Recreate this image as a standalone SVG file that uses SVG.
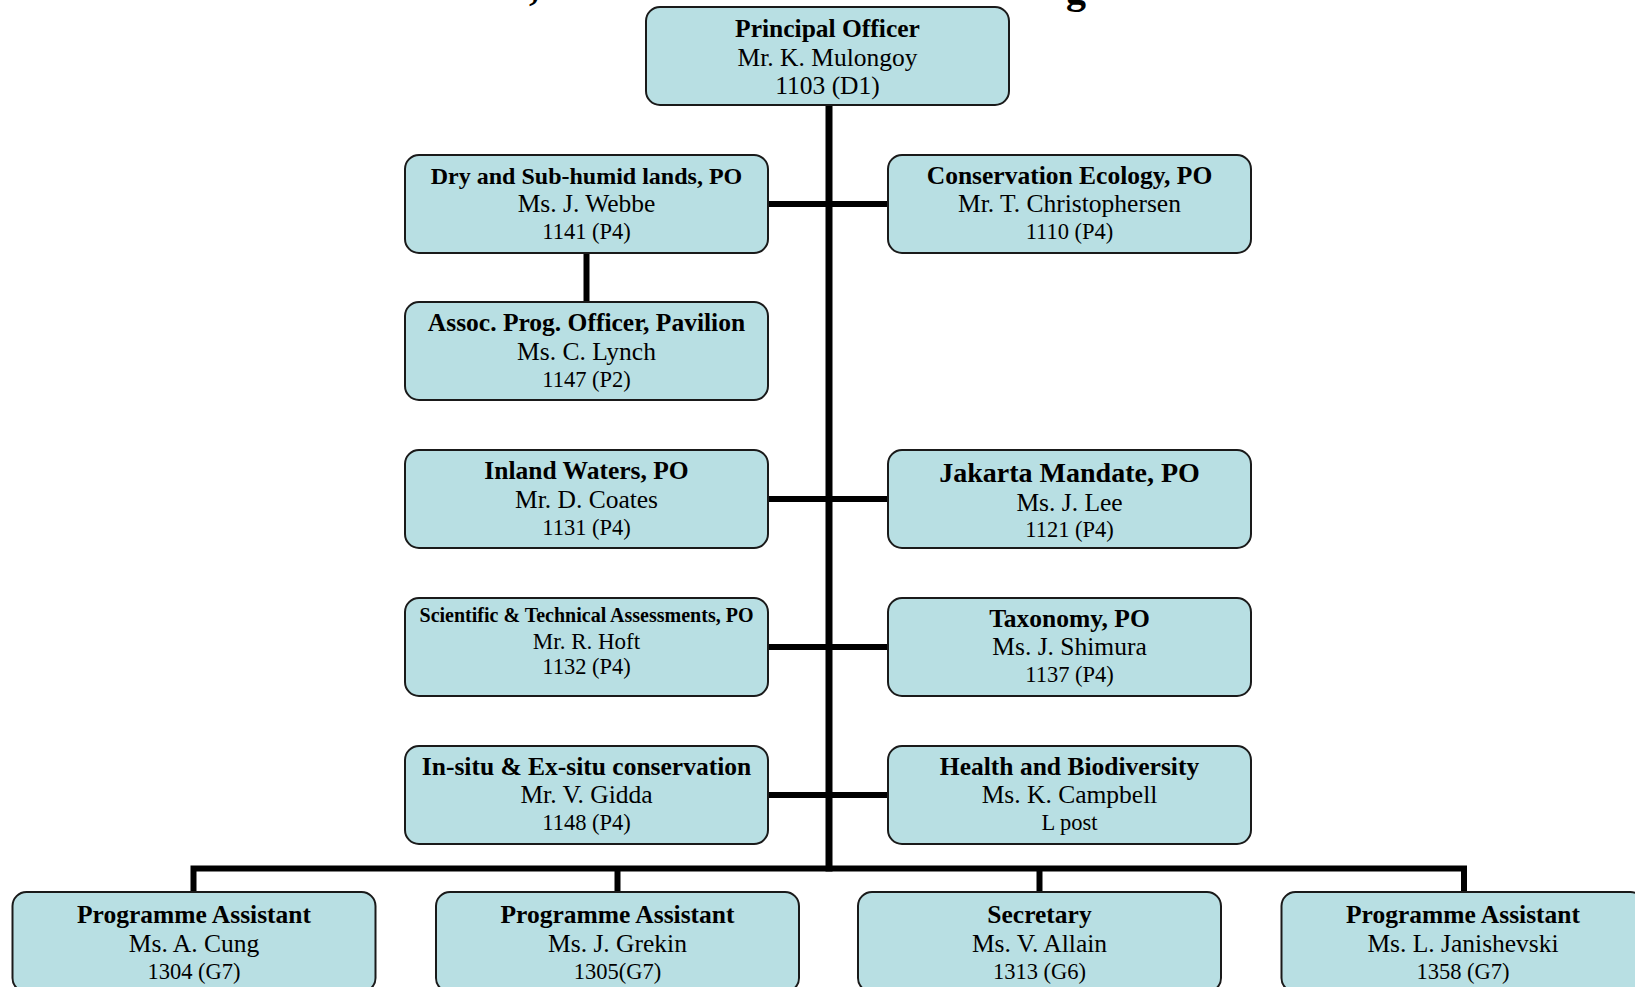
<svg xmlns="http://www.w3.org/2000/svg" width="1635" height="987" viewBox="0 0 1635 987">
<style>
.box{fill:#B8DFE3;stroke:#1a1a1a;stroke-width:2}
.t{font-family:"Liberation Serif","Times New Roman",serif;text-anchor:middle;fill:#000}
.b{font-weight:bold;font-size:25.5px}
.n{font-size:25.5px}
.c{font-size:22.5px}
.ln{stroke:#000;stroke-width:6;fill:none}
</style>
<rect width="1635" height="987" fill="#fff"/>
<g id="title-fragments">
<text class="t" x="534" y="0" style="font-size:40px;font-weight:bold">,</text>
<text class="t" x="1076" y="3" style="font-size:40px;font-weight:bold">g</text>
</g>
<g id="connectors">
<line class="ln" x1="829" y1="105" x2="829" y2="871.5" style="stroke-width:7"/>
<line class="ln" x1="768" y1="204" x2="888" y2="204"/>
<line class="ln" x1="586.5" y1="253" x2="586.5" y2="302"/>
<line class="ln" x1="768" y1="499" x2="888" y2="499"/>
<line class="ln" x1="768" y1="647" x2="888" y2="647"/>
<line class="ln" x1="768" y1="795" x2="888" y2="795"/>
<polyline class="ln" points="193.5,892 193.5,868.5 1464,868.5 1464,892"/>
<line class="ln" x1="617.5" y1="868.5" x2="617.5" y2="892"/>
<line class="ln" x1="1039.5" y1="868.5" x2="1039.5" y2="892"/>
</g>
<g id="principal">
<rect class="box" x="646" y="7" width="363" height="98" rx="14"/>
<text class="t b" x="827.5" y="36.5">Principal Officer</text>
<text class="t n" x="827.5" y="65.5">Mr. K. Mulongoy</text>
<text class="t n" x="827.5" y="93.5">1103 (D1)</text>
</g>
<g id="dry">
<rect class="box" x="405" y="155" width="363" height="98" rx="14"/>
<text class="t" x="586.5" y="184" style="font-size:24px;font-weight:bold">Dry and Sub-humid lands, PO</text>
<text class="t n" x="586.5" y="212">Ms. J. Webbe</text>
<text class="t c" x="586.5" y="239">1141 (P4)</text>
</g>
<g id="conservation-ecology">
<rect class="box" x="888" y="155" width="363" height="98" rx="14"/>
<text class="t b" x="1069.5" y="184">Conservation Ecology, PO</text>
<text class="t n" x="1069.5" y="212">Mr. T. Christophersen</text>
<text class="t c" x="1069.5" y="239">1110 (P4)</text>
</g>
<g id="assoc">
<rect class="box" x="405" y="302" width="363" height="98" rx="14"/>
<text class="t b" x="586.5" y="331">Assoc. Prog. Officer, Pavilion</text>
<text class="t n" x="586.5" y="360">Ms. C. Lynch</text>
<text class="t c" x="586.5" y="387">1147 (P2)</text>
</g>
<g id="inland-waters">
<rect class="box" x="405" y="450" width="363" height="98" rx="14"/>
<text class="t b" x="586.5" y="479">Inland Waters, PO</text>
<text class="t n" x="586.5" y="508">Mr. D. Coates</text>
<text class="t c" x="586.5" y="535">1131 (P4)</text>
</g>
<g id="jakarta">
<rect class="box" x="888" y="450" width="363" height="98" rx="14"/>
<text class="t" x="1069.5" y="482" style="font-size:28px;font-weight:bold">Jakarta Mandate, PO</text>
<text class="t n" x="1069.5" y="510.5">Ms. J. Lee</text>
<text class="t c" x="1069.5" y="537">1121 (P4)</text>
</g>
<g id="scientific">
<rect class="box" x="405" y="598" width="363" height="98" rx="14"/>
<text class="t" x="586.5" y="621.5" style="font-size:20px;font-weight:bold">Scientific &amp; Technical Assessments, PO</text>
<text class="t" x="586.5" y="648.5" style="font-size:23px">Mr. R. Hoft</text>
<text class="t c" x="586.5" y="673.5">1132 (P4)</text>
</g>
<g id="taxonomy">
<rect class="box" x="888" y="598" width="363" height="98" rx="14"/>
<text class="t b" x="1069.5" y="627">Taxonomy, PO</text>
<text class="t n" x="1069.5" y="655">Ms. J. Shimura</text>
<text class="t c" x="1069.5" y="682">1137 (P4)</text>
</g>
<g id="insitu">
<rect class="box" x="405" y="746" width="363" height="98" rx="14"/>
<text class="t b" x="586.5" y="775">In-situ &amp; Ex-situ conservation</text>
<text class="t n" x="586.5" y="803">Mr. V. Gidda</text>
<text class="t c" x="586.5" y="830">1148 (P4)</text>
</g>
<g id="health">
<rect class="box" x="888" y="746" width="363" height="98" rx="14"/>
<text class="t b" x="1069.5" y="775">Health and Biodiversity</text>
<text class="t n" x="1069.5" y="803">Ms. K. Campbell</text>
<text class="t c" x="1069.5" y="830">L post</text>
</g>
<g id="pa-cung">
<rect class="box" x="12.5" y="892" width="363" height="100" rx="14"/>
<text class="t b" x="194" y="922.5">Programme Assistant</text>
<text class="t n" x="194" y="952">Ms. A. Cung</text>
<text class="t c" x="194" y="978.5">1304 (G7)</text>
</g>
<g id="pa-grekin">
<rect class="box" x="436" y="892" width="363" height="100" rx="14"/>
<text class="t b" x="617.5" y="922.5">Programme Assistant</text>
<text class="t n" x="617.5" y="952">Ms. J. Grekin</text>
<text class="t c" x="617.5" y="978.5">1305(G7)</text>
</g>
<g id="secretary">
<rect class="box" x="858" y="892" width="363" height="100" rx="14"/>
<text class="t b" x="1039.5" y="922.5">Secretary</text>
<text class="t n" x="1039.5" y="952">Ms. V. Allain</text>
<text class="t c" x="1039.5" y="978.5">1313 (G6)</text>
</g>
<g id="pa-janishevski">
<rect class="box" x="1281.5" y="892" width="363" height="100" rx="14"/>
<text class="t b" x="1463" y="922.5">Programme Assistant</text>
<text class="t n" x="1463" y="952">Ms. L. Janishevski</text>
<text class="t c" x="1463" y="978.5">1358 (G7)</text>
</g>
</svg>
